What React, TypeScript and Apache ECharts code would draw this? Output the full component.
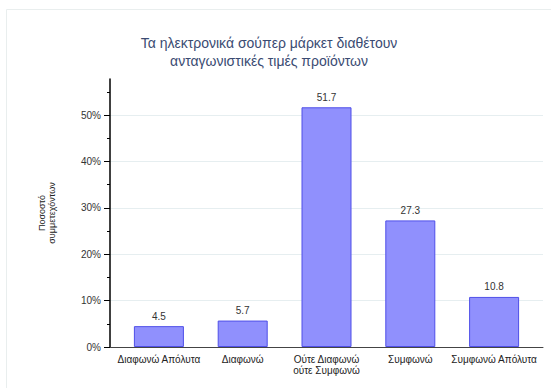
import React, { useEffect, useRef } from "react";
import * as echarts from "echarts";

const titleLines = ["Τα ηλεκτρονικά σούπερ μάρκετ διαθέτουν", "ανταγωνιστικές τιμές προϊόντων"];
const categories = ["Διαφωνώ Απόλυτα", "Διαφωνώ", "Ούτε Διαφωνώ\nούτε Συμφωνώ", "Συμφωνώ", "Συμφωνώ Απόλυτα"];
const values = [4.5, 5.7, 51.7, 27.3, 10.8];
const majorTicks = [0, 10, 20, 30, 40, 50];
const minorTicks = [5, 15, 25, 35, 45, 55];
const yMax = 57.8;
const yName = "Ποσοστό\nσυμμετεχόντων";

const FONT = "Liberation Sans, Arial, sans-serif";

export default function App() {
  const ref = useRef<HTMLDivElement>(null);
  useEffect(() => {
    if (!ref.current) return;
    const chart = echarts.init(ref.current, undefined, { renderer: "svg" });
    const top = 79;
    const bottom = 41;
    chart.setOption({
      animation: false,
      backgroundColor: "#ffffff",
      textStyle: { fontFamily: FONT },
      title: {
        text: titleLines.join("\n"),
        left: 269,
        top: 34,
        padding: 0,
        textAlign: "center",
        textStyle: { fontFamily: FONT, fontSize: 14, fontWeight: "normal", color: "#3a4b72", lineHeight: 18 },
      },
      graphic: [
        {
          type: "rect",
          shape: { x: 6.5, y: 9.5, width: 600, height: 500 },
          style: { fill: "none", stroke: "#e9eeee", lineWidth: 1 },
          silent: true,
          z: -10,
        },
      ],
      grid: [
        { left: 110, right: 8, top, bottom },
        { left: 117, right: 15, top, bottom },
      ],
      xAxis: [
        {
          gridIndex: 0,
          type: "value",
          min: 0,
          max: 1,
          axisLine: { show: true, onZero: false, lineStyle: { color: "#444", width: 1 } },
          axisTick: { show: false },
          axisLabel: { show: false },
          splitLine: { show: false },
        },
        {
          gridIndex: 1,
          type: "category",
          data: categories,
          axisLine: { show: false },
          axisTick: { show: false },
          axisLabel: { interval: 0, margin: 7, fontSize: 10, color: "#222", fontFamily: FONT, lineHeight: 11 },
        },
      ],
      yAxis: [
        {
          gridIndex: 0,
          type: "value",
          position: "left",
          min: 0,
          max: yMax,
          name: yName,
          nameLocation: "middle",
          nameRotate: 90,
          nameGap: 53,
          nameTextStyle: { fontSize: 9, color: "#222", fontFamily: FONT, lineHeight: 10 },
          axisLine: { show: true, lineStyle: { color: "#000", width: 1.5 } },
          axisTick: { show: true, length: 6, customValues: majorTicks, lineStyle: { color: "#000" } },
          axisLabel: {
            customValues: majorTicks,
            margin: 9,
            fontSize: 10,
            color: "#333",
            fontFamily: FONT,
            formatter: (v: number) => `${v}%`,
          },
          splitLine: { show: true, lineStyle: { color: "#e6eef0", width: 1 } },
        },
        {
          gridIndex: 0,
          type: "value",
          position: "left",
          offset: 0,
          min: 0,
          max: yMax,
          axisLine: { show: false },
          axisTick: { show: true, length: 3, customValues: minorTicks, lineStyle: { color: "#000" } },
          axisLabel: { show: false },
          splitLine: { show: false },
        },
        {
          gridIndex: 1,
          type: "value",
          position: "left",
          min: 0,
          max: yMax,
          show: false,
          splitLine: { show: false },
        },
      ],
      series: [
        {
          type: "bar",
          xAxisIndex: 1,
          yAxisIndex: 2,
          data: values,
          barWidth: 50,
          itemStyle: { color: "#9090fd", borderColor: "#4f4fe8", borderWidth: 1 },
          label: {
            show: true,
            position: "top",
            distance: 5,
            fontSize: 10,
            color: "#333",
            fontFamily: FONT,
            formatter: (p: any) => String(p.value),
          },
        },
      ],
    });
    return () => chart.dispose();
  }, []);
  return <div ref={ref} style={{ position: "fixed", left: 0, top: 0, width: 551, height: 388 }} />;
}
